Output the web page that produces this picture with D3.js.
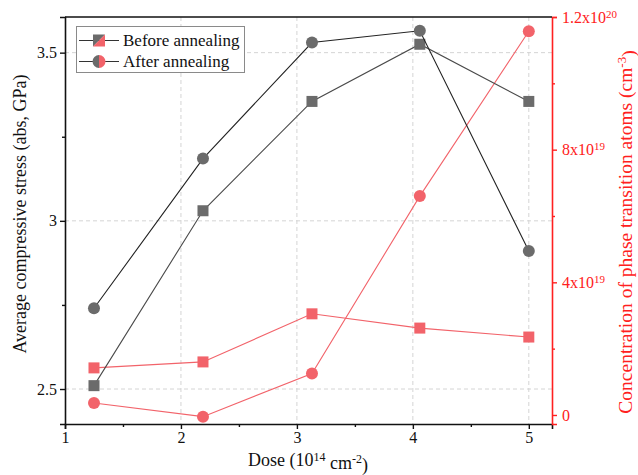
<!DOCTYPE html>
<html>
<head>
<meta charset="utf-8">
<script src="https://cdn.jsdelivr.net/npm/d3@7"></script>
<style>
  html, body { margin: 0; padding: 0; background: #fff; }
  svg text { font-family: "Liberation Serif", "Times New Roman", serif; }
</style>
</head>
<body>
<svg id="chart" width="638" height="475"></svg>
<script>
// Dose values (10^14 cm^-2)
const doses = [1.25, 2.19, 3.13, 4.06, 5.0];
// Average compressive stress (GPa)
const stressBefore = [2.51, 3.03, 3.355, 3.525, 3.355];
const stressAfter = [2.74, 3.185, 3.53, 3.565, 2.91];
// Concentration of phase transition atoms (cm^-3)
const concBefore = [1.42e19, 1.6e19, 3.05e19, 2.62e19, 2.35e19];
const concAfter = [0.36e19, -0.05e19, 1.25e19, 6.6e19, 11.57e19];
// Tick labels
const xTicks = [1, 2, 3, 4, 5];
const yLeftTicks = [2.5, 3, 3.5];
const yRightTicks = [0, 4e19, 8e19, 1.2e20];
const yRightLabels = [["0", ""], ["4x10", "19"], ["8x10", "19"], ["1.2x10", "20"]];
const legendLabels = ["Before annealing", "After annealing"];

const grey = "#6b6b6b";
const greyLine = "#4a4a4a";
const red = "#f2636a";
const axisRed = "#ff2020";

const svg = d3.select("#chart");
const plotL = 65, plotR = 552, plotT = 17, plotB = 424;

const x = d3.scaleLinear().domain([1, 5.2]).range([plotL, plotR]);
const yL = d3.scaleLinear().domain([2.396, 3.606]).range([plotB, plotT]);
const yR = d3.scaleLinear().domain([-0.272e19, 1.2e20]).range([plotB, plotT]);

// dashed grid
const grid = svg.append("g");
grid.selectAll("line.gx").data(xTicks.slice(1)).join("line")
  .attr("x1", d => x(d)).attr("x2", d => x(d)).attr("y1", plotT).attr("y2", plotB)
  .attr("stroke", "#d4d4d4").attr("stroke-dasharray", "4,3").attr("stroke-width", 1);
grid.selectAll("line.gy").data(yLeftTicks).join("line")
  .attr("x1", plotL).attr("x2", plotR).attr("y1", d => yL(d)).attr("y2", d => yL(d))
  .attr("stroke", "#d4d4d4").attr("stroke-dasharray", "4,3").attr("stroke-width", 1);

// axes
const xAxis = svg.append("g").attr("transform", `translate(0,${plotB})`)
  .call(d3.axisBottom(x).tickValues(xTicks).tickFormat(d3.format("d")).tickSize(5).tickPadding(3));
const xMinor = svg.append("g").attr("transform", `translate(0,${plotB})`)
  .call(d3.axisBottom(x).tickValues([1.5, 2.5, 3.5, 4.5]).tickFormat("").tickSize(3));
const yAxisL = svg.append("g").attr("transform", `translate(${plotL},0)`)
  .call(d3.axisLeft(yL).tickValues(yLeftTicks).tickFormat(d3.format("")).tickSize(5).tickPadding(3));
const yMinorL = svg.append("g").attr("transform", `translate(${plotL},0)`)
  .call(d3.axisLeft(yL).tickValues([2.75, 3.25]).tickFormat("").tickSize(3));
const yAxisR = svg.append("g").attr("transform", `translate(${plotR},0)`)
  .call(d3.axisRight(yR).tickValues(yRightTicks).tickFormat("").tickSize(5));
const yMinorR = svg.append("g").attr("transform", `translate(${plotR},0)`)
  .call(d3.axisRight(yR).tickValues([2e19, 6e19, 1e20]).tickFormat("").tickSize(3));

[xAxis, xMinor, yAxisL, yMinorL].forEach(g => {
  g.select(".domain").attr("stroke", "#111").attr("stroke-width", 1.6);
  g.selectAll(".tick line").attr("stroke", "#111").attr("stroke-width", 1.4);
  g.selectAll(".tick text").attr("fill", "#111").attr("font-size", 16)
    .attr("font-family", "Liberation Serif, serif");
});
[xMinor, yMinorL].forEach(g => g.select(".domain").remove());
[yAxisR, yMinorR].forEach(g => {
  g.select(".domain").attr("stroke", axisRed).attr("stroke-width", 1.6);
  g.selectAll(".tick line").attr("stroke", axisRed).attr("stroke-width", 1.4);
});
yMinorR.select(".domain").remove();

// right tick labels with superscripts
yAxisR.selectAll(".tick").each(function(d, i) {
  const t = d3.select(this).append("text")
    .attr("x", 10).attr("dy", "0.32em").attr("fill", axisRed)
    .attr("font-size", 16).attr("text-anchor", "start");
  const lab = yRightLabels[i];
  t.append("tspan").text(lab[0]);
  if (lab[1]) t.append("tspan").attr("dy", "-0.45em").attr("font-size", 11).text(lab[1]);
});

// top frame line
svg.append("line").attr("x1", plotL).attr("x2", plotR).attr("y1", plotT).attr("y2", plotT)
  .attr("stroke", "#111").attr("stroke-width", 1.6);

// series
function drawSeries(vals, yScale, lineColor, fill, shape) {
  const pts = doses.map((d, i) => [x(d), yScale(vals[i])]);
  svg.append("path").attr("d", d3.line()(pts)).attr("fill", "none")
    .attr("stroke", lineColor).attr("stroke-width", 1.1);
  const g = svg.append("g");
  if (shape === "square") {
    g.selectAll("rect").data(pts).join("rect")
      .attr("x", p => p[0] - 5.5).attr("y", p => p[1] - 5.5)
      .attr("width", 11).attr("height", 11).attr("fill", fill);
  } else {
    g.selectAll("circle").data(pts).join("circle")
      .attr("cx", p => p[0]).attr("cy", p => p[1]).attr("r", 6).attr("fill", fill);
  }
}
drawSeries(concBefore, yR, red, red, "square");
drawSeries(concAfter, yR, red, red, "circle");
drawSeries(stressBefore, yL, greyLine, grey, "square");
drawSeries(stressAfter, yL, "#222", grey, "circle");

// legend
const lg = svg.append("g");
lg.append("rect").attr("x", 76.5).attr("y", 26.5).attr("width", 168).attr("height", 46)
  .attr("fill", "#fff").attr("stroke", "#8a8a8a").attr("stroke-width", 1);
const rows = [40.5, 61.5];
rows.forEach((ry, i) => {
  lg.append("line").attr("x1", 79).attr("x2", 119).attr("y1", ry).attr("y2", ry)
    .attr("stroke", "#333").attr("stroke-width", 1);
  const cx = 99;
  if (i === 0) {
    lg.append("path").attr("d", `M${cx-6},${ry-6}L${cx+6},${ry-6}L${cx-6},${ry+6}Z`).attr("fill", grey);
    lg.append("path").attr("d", `M${cx+6},${ry-6}L${cx+6},${ry+6}L${cx-6},${ry+6}Z`).attr("fill", red);
  } else {
    lg.append("path").attr("d", `M${cx},${ry-6.5}A6.5,6.5 0 0 0 ${cx},${ry+6.5}Z`).attr("fill", grey);
    lg.append("path").attr("d", `M${cx},${ry-6.5}A6.5,6.5 0 0 1 ${cx},${ry+6.5}Z`).attr("fill", red);
  }
  lg.append("text").attr("x", 123).attr("y", ry).attr("dy", "0.34em")
    .attr("font-size", 17).attr("fill", "#111").text(legendLabels[i]);
});

// axis titles
const xt = svg.append("text").attr("x", 308).attr("y", 466)
  .attr("text-anchor", "middle").attr("font-size", 18).attr("fill", "#111");
xt.append("tspan").text("Dose (10");
xt.append("tspan").attr("dy", "-0.45em").attr("font-size", 12).text("14");
xt.append("tspan").attr("dy", "0.45em").text(" cm");
xt.append("tspan").attr("dy", "-0.45em").attr("font-size", 12).text("-2");
xt.append("tspan").attr("dy", "0.45em").text(")");

svg.append("text").attr("transform", `translate(26,214) rotate(-90)`)
  .attr("text-anchor", "middle").attr("font-size", 18).attr("fill", "#111")
  .text("Average compressive stress (abs, GPa)");

const rt = svg.append("text").attr("transform", `translate(632,232) rotate(-90)`)
  .attr("text-anchor", "middle").attr("font-size", 19.5).attr("fill", axisRed);
rt.append("tspan").text("Concentration of phase transition atoms (cm");
rt.append("tspan").attr("dy", "-0.45em").attr("font-size", 13).text("-3");
rt.append("tspan").attr("dy", "0.45em").text(")");
</script>
</body>
</html>
